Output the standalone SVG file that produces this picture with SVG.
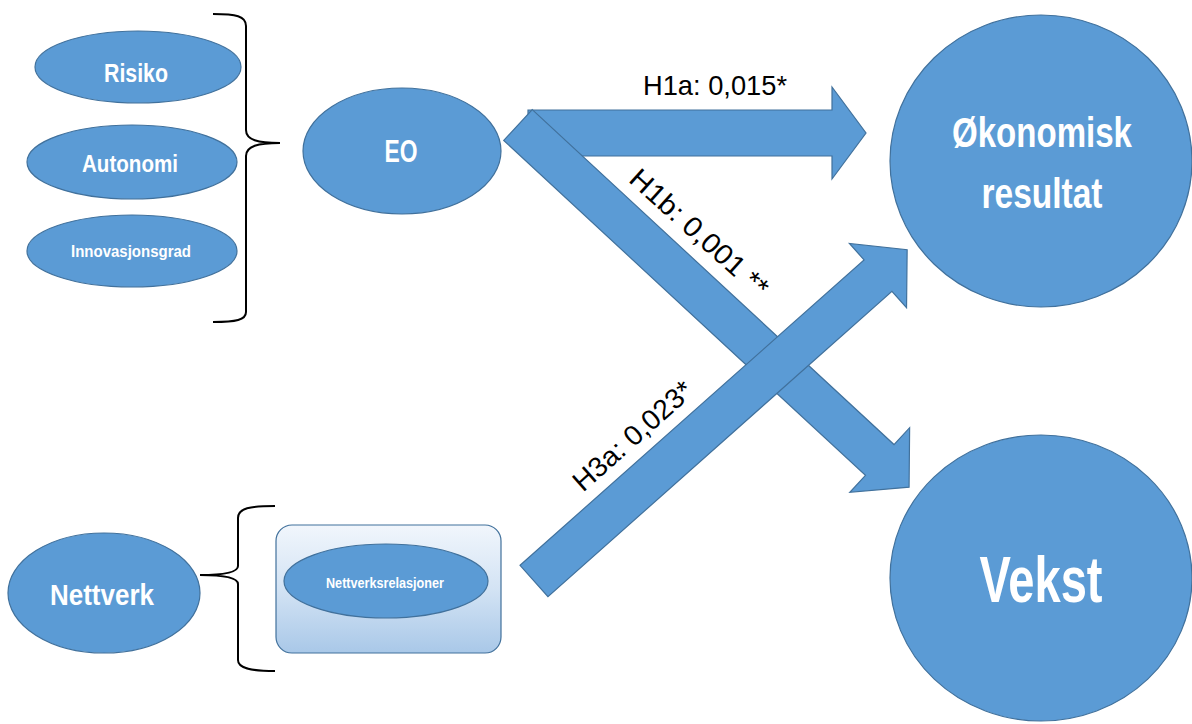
<svg xmlns="http://www.w3.org/2000/svg" width="1192" height="724" viewBox="0 0 1192 724">
  <defs>
    <linearGradient id="boxFill" x1="0" y1="0" x2="0" y2="1">
      <stop offset="0" stop-color="#f1f6fc"/>
      <stop offset="0.5" stop-color="#d3e3f4"/>
      <stop offset="1" stop-color="#a9c8e8"/>
    </linearGradient>
    <style>
      .node { fill: #5b9bd5; stroke: #41719c; stroke-width: 1.2; }
      .arrow { fill: #5b9bd5; stroke: #41719c; stroke-width: 1.2; stroke-linejoin: miter; }
      .lbl { fill: #ffffff; font-family: "Liberation Sans", Arial, sans-serif; font-weight: bold; text-anchor: middle; }
      .coef { fill: #000000; font-family: "Liberation Sans", Arial, sans-serif; font-size: 28px; }
      .brace { fill: none; stroke: #000000; stroke-width: 2; }
    </style>
  </defs>

  <rect width="1192" height="724" fill="#ffffff"/>

  <!-- EO dimensions -->
  <g id="risiko">
    <ellipse class="node" cx="138" cy="67" rx="103" ry="36"/>
    <text class="lbl" x="136" y="82" font-size="26" textLength="64" lengthAdjust="spacingAndGlyphs">Risiko</text>
  </g>
  <g id="autonomi">
    <ellipse class="node" cx="132" cy="162" rx="105" ry="37"/>
    <text class="lbl" x="130" y="172" font-size="24" textLength="96" lengthAdjust="spacingAndGlyphs">Autonomi</text>
  </g>
  <g id="innovasjonsgrad">
    <ellipse class="node" cx="132" cy="251" rx="105" ry="36"/>
    <text class="lbl" x="131" y="257" font-size="16" textLength="120" lengthAdjust="spacingAndGlyphs">Innovasjonsgrad</text>
  </g>

  <!-- brace grouping the EO dimensions -->
  <path id="brace-eo" class="brace" d="M213,14 C236,14 246,16 246,26 L246,130 C246,140 258,143 280,143 C258,143 246,146 246,156 L246,312 C246,320 236,322 213,322"/>

  <g id="eo">
    <ellipse class="node" cx="402" cy="151" rx="99" ry="63"/>
    <text class="lbl" x="401" y="162" font-size="31" textLength="33" lengthAdjust="spacingAndGlyphs">EO</text>
  </g>

  <g id="nettverk">
    <ellipse class="node" cx="104" cy="593" rx="96" ry="60"/>
    <text class="lbl" x="102" y="605" font-size="30" textLength="104" lengthAdjust="spacingAndGlyphs">Nettverk</text>
  </g>

  <!-- brace grouping the network dimension -->
  <path id="brace-nettverk" class="brace" d="M275,506 C250,506 238,508 238,518 L238,566 C238,572 226,575 200,575 C226,575 238,578 238,584 L238,660 C238,668 250,671 275,671"/>

  <g id="nettverksrelasjoner">
    <rect x="276" y="525" width="225" height="128" rx="16" ry="16" fill="url(#boxFill)" stroke="#41719c" stroke-width="1.2"/>
    <ellipse class="node" cx="386" cy="581" rx="102" ry="37"/>
    <text class="lbl" x="385" y="588" font-size="14" textLength="118" lengthAdjust="spacingAndGlyphs">Nettverksrelasjoner</text>
  </g>

  <g id="okonomisk-resultat">
    <ellipse class="node" cx="1041" cy="161" rx="151" ry="146"/>
    <text class="lbl" x="1042" y="147" font-size="43" textLength="180" lengthAdjust="spacingAndGlyphs">Økonomisk</text>
    <text class="lbl" x="1042" y="208" font-size="43" textLength="121" lengthAdjust="spacingAndGlyphs">resultat</text>
  </g>

  <g id="vekst">
    <ellipse class="node" cx="1041" cy="578" rx="151" ry="143"/>
    <text class="lbl" x="1041" y="602" font-size="64" textLength="123" lengthAdjust="spacingAndGlyphs">Vekst</text>
  </g>

  <!-- block arrows with path coefficients -->
  <g id="connectors">
    <polygon id="h1a" class="arrow" points="528,110 832,110 832,87 866,133 832,179 832,156 528,156"/>
    <polygon id="h1b" class="arrow" points="0,-21 493,-21 493,-44 533,0 493,44 493,21 0,21" transform="translate(518,125) rotate(42.8)"/>
    <polygon id="h3a" class="arrow" points="0,-21 460,-21 460,-43 499,0 460,43 460,21 0,21" transform="translate(534,581) rotate(-41.6)"/>

    <text class="coef" x="715" y="95" text-anchor="middle" textLength="144" lengthAdjust="spacingAndGlyphs">H1a: 0,015*</text>
    <text class="coef" text-anchor="middle" textLength="176" lengthAdjust="spacingAndGlyphs" transform="translate(693,240) rotate(42)">H1b: 0,001 **</text>
    <text class="coef" text-anchor="middle" textLength="150" lengthAdjust="spacingAndGlyphs" transform="translate(639,443) rotate(-41.6)">H3a: 0,023*</text>
  </g>
</svg>
